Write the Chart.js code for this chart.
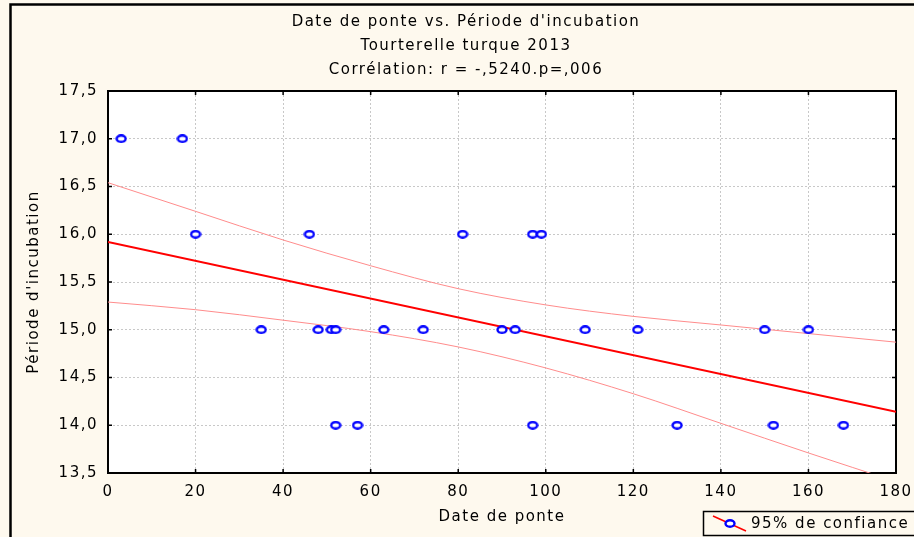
<!DOCTYPE html>
<html>
<head>
<meta charset="utf-8">
<script src="https://cdn.jsdelivr.net/npm/chart.js@4.4.1/dist/chart.umd.min.js"></script>
<style>
  html, body { margin: 0; padding: 0; background: #fef9ee; }
  #wrap { width: 914px; height: 537px; }
</style>
</head>
<body>
<div id="wrap"><canvas id="myChart"></canvas></div>
<script>
// observations: date de ponte (jours) vs periode d'incubation (jours)
const datePonte  = [3, 17, 20, 46, 81, 97, 99, 35, 48, 51, 52, 63, 72, 90, 93, 109, 121, 150, 160, 52, 57, 97, 130, 152, 168];
const incubation = [17, 17, 16, 16, 16, 16, 16, 15, 15, 15, 15, 15, 15, 15, 15, 15, 15, 15, 15, 14, 14, 14, 14, 14, 14];

// droite de regression
const fitX = [0, 180];
const fitY = [15.92, 14.14];

// limites de confiance 95%
const bandX     = [0, 20, 40, 60, 80, 100, 120, 140, 160, 180];
const bandUpper = [16.54, 16.24, 15.94, 15.67, 15.43, 15.26, 15.14, 15.05, 14.96, 14.87];
const bandLower = [15.29, 15.21, 15.10, 14.98, 14.82, 14.60, 14.33, 14.02, 13.71, 13.41];

const xTicks = [0, 20, 40, 60, 80, 100, 120, 140, 160, 180];
const yTicks = [13.5, 14, 14.5, 15, 15.5, 16, 16.5, 17, 17.5];

const cream = '#fef9ee';
const spacing = '1.5px';

const toXY = (xs, ys) => xs.map((x, i) => ({x: x, y: ys[i]}));

// open blue marker, slightly wider than tall
const marker = document.createElement('canvas');
marker.width = 12;
marker.height = 9;
let m = marker.getContext('2d');
m.fillStyle = '#fff';
m.strokeStyle = '#0000ff';
m.lineWidth = 2.4;
m.beginPath();
m.ellipse(6, 4.5, 4.5, 3.2, 0, 0, Math.PI * 2);
m.fill();
m.stroke();

const frame = {
    id: 'frame',
    beforeUpdate(chart) {
        chart.ctx.letterSpacing = spacing;
    },
    beforeDraw(chart) {
        const {ctx, chartArea: a, width, height} = chart;
        ctx.letterSpacing = spacing;
        ctx.save();
        ctx.fillStyle = cream;
        ctx.fillRect(0, 0, width, height);
        ctx.fillStyle = '#fff';
        ctx.fillRect(a.left, a.top, a.right - a.left, a.bottom - a.top);
        ctx.strokeStyle = '#000';
        ctx.lineWidth = 2.5;
        ctx.beginPath();
        ctx.moveTo(10.5, height);
        ctx.lineTo(10.5, 4.5);
        ctx.lineTo(width, 4.5);
        ctx.stroke();
        ctx.restore();
    },
    afterDraw(chart) {
        const {ctx, chartArea: a, scales} = chart;
        ctx.save();
        // small inward ticks on the four sides
        ctx.strokeStyle = '#000';
        ctx.lineWidth = 1.5;
        ctx.beginPath();
        xTicks.forEach(v => {
            const px = scales.x.getPixelForValue(v);
            ctx.moveTo(px, a.bottom); ctx.lineTo(px, a.bottom - 4);
            ctx.moveTo(px, a.top); ctx.lineTo(px, a.top + 4);
        });
        yTicks.forEach(v => {
            const py = scales.y.getPixelForValue(v);
            ctx.moveTo(a.left, py); ctx.lineTo(a.left + 4, py);
            ctx.moveTo(a.right, py); ctx.lineTo(a.right - 4, py);
        });
        ctx.stroke();

        // legend box, cut by the right edge like the original
        const lx = a.right - 193, ly = a.bottom + 38;
        ctx.fillStyle = cream;
        ctx.fillRect(lx, ly, 240, 24);
        ctx.strokeStyle = '#000';
        ctx.lineWidth = 1.5;
        ctx.strokeRect(lx + 0.5, ly + 0.5, 240, 24);
        ctx.strokeStyle = '#ff0000';
        ctx.lineWidth = 1.5;
        ctx.beginPath();
        ctx.moveTo(lx + 10, ly + 5);
        ctx.lineTo(lx + 43, ly + 20);
        ctx.stroke();
        ctx.drawImage(marker, lx + 21, ly + 8);
        ctx.fillStyle = '#000';
        ctx.font = "15px 'DejaVu Sans'";
        ctx.textBaseline = 'middle';
        ctx.fillText('95% de confiance', lx + 48, ly + 13);
        ctx.restore();
    }
};

Chart.defaults.font.family = "'DejaVu Sans', sans-serif";
Chart.defaults.font.size = 15;
Chart.defaults.color = '#000';

const ctx = document.getElementById('myChart').getContext('2d');

const data = {
    datasets: [
        {
            label: 'Observations',
            type: 'scatter',
            data: toXY(datePonte, incubation),
            pointStyle: marker,
            pointRadius: 5,
        },
        {
            label: 'Régression',
            type: 'line',
            data: toXY(fitX, fitY),
            borderColor: '#ff0000',
            borderWidth: 2,
            pointRadius: 0,
        },
        {
            label: '95% sup',
            type: 'line',
            data: toXY(bandX, bandUpper),
            borderColor: '#ff8c8c',
            borderWidth: 1,
            pointRadius: 0,
            cubicInterpolationMode: 'monotone',
        },
        {
            label: '95% inf',
            type: 'line',
            data: toXY(bandX, bandLower),
            borderColor: '#ff8c8c',
            borderWidth: 1,
            pointRadius: 0,
            cubicInterpolationMode: 'monotone',
        }
    ]
};

const config = {
    type: 'scatter',
    data: data,
    plugins: [frame],
    options: {
        responsive: true,
        maintainAspectRatio: false,
        animation: false,
        layout: {
            padding: {left: 18, right: 0, top: 0, bottom: 0}
        },
        plugins: {
            legend: {display: false},
            tooltip: {enabled: false},
            title: {
                display: true,
                text: ["Date de ponte vs. Période d'incubation", 'Tourterelle turque 2013'],
                font: {size: 15, weight: 'normal', lineHeight: 1.6},
                padding: {top: 10, bottom: 0},
                color: '#000'
            },
            subtitle: {
                display: true,
                text: 'Corrélation: r = -,5240.p=,006',
                font: {size: 15, weight: 'normal', lineHeight: 1.6},
                padding: {top: 0, bottom: 9},
                color: '#000'
            }
        },
        scales: {
            x: {
                type: 'linear',
                position: 'bottom',
                min: 0,
                max: 180,
                ticks: {stepSize: 20, padding: 10},
                grid: {color: '#c8c8c8', drawTicks: false},
                border: {color: '#000', width: 2, dash: [2, 2]},
                title: {display: true, text: 'Date de ponte', padding: {top: 0, bottom: 11}},
                afterFit: (s) => { s.height = 64; s.paddingRight = 0; s.paddingLeft = 0; }
            },
            y: {
                type: 'linear',
                position: 'left',
                min: 13.5,
                max: 17.5,
                ticks: {
                    stepSize: 0.5,
                    padding: 10,
                    callback: (v) => v.toFixed(1).replace('.', ',')
                },
                grid: {color: '#c8c8c8', drawTicks: false},
                border: {color: '#000', width: 2, dash: [2, 2]},
                title: {display: true, text: "Période d'incubation", padding: {top: 7, bottom: 0}},
                afterFit: (s) => { s.width = 90; s.paddingTop = 0; s.paddingBottom = 0; }
            },
            x2: {
                type: 'linear',
                position: 'top',
                min: 0,
                max: 180,
                ticks: {display: false},
                grid: {display: false, drawTicks: false},
                border: {color: '#000', width: 2},
                afterFit: (s) => { s.height = 0; }
            },
            y2: {
                type: 'linear',
                position: 'right',
                min: 13.5,
                max: 17.5,
                ticks: {display: false},
                grid: {display: false, drawTicks: false},
                border: {color: '#000', width: 2},
                afterFit: (s) => { s.width = 18; }
            }
        }
    }
};

const myChart = new Chart(ctx, config);
</script>
</body>
</html>
